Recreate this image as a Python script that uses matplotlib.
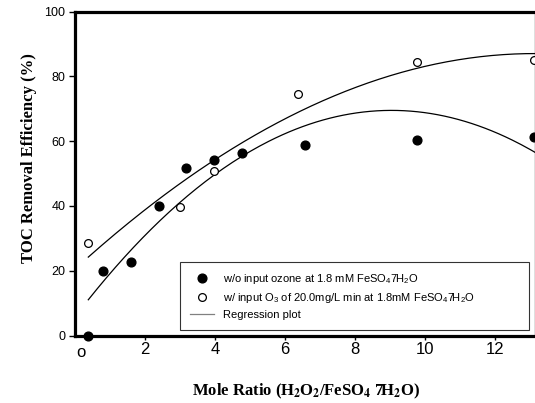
import numpy as np
import matplotlib
matplotlib.use("Agg")
import matplotlib.pyplot as plt
from matplotlib.lines import Line2D

plt.rcParams['font.family'] = ['Liberation Sans', 'DejaVu Sans']
plt.rcParams['mathtext.default'] = 'regular'

# w/o ozone (filled circles)
x_no_ozone = [0.38, 0.81, 1.59, 2.40, 3.17, 3.98, 4.78, 6.57, 9.76, 13.12]
y_no_ozone = [0.0, 20.0, 22.6, 39.9, 51.6, 54.3, 56.5, 58.7, 60.5, 61.3]

# w/ ozone (open circles)
x_ozone = [0.38, 3.00, 3.98, 6.38, 9.76, 13.12]
y_ozone = [28.5, 39.7, 50.8, 74.5, 84.5, 85.2]

# regression curves, points
x_reg_upper = [0.38, 2.38, 4.43, 6.33, 7.86, 9.76, 13.0]
y_reg_upper = [24.3, 41.8, 57.2, 69.1, 75.8, 82.4, 87.1]
x_reg_lower = [0.38, 2.90, 3.98, 4.78, 6.62, 7.86, 8.71, 9.57, 13.1]
y_reg_lower = [11.0, 39.8, 50.9, 54.7, 64.4, 68.6, 69.6, 69.4, 56.8]

fig = plt.figure(figsize=(5.35, 4.03), dpi=100)
ax = fig.add_axes([75 / 535, 1 - 335.5 / 403, 460 / 535, 323.8 / 403])

# smooth regression lines
for xr, yr in [(x_reg_upper, y_reg_upper), (x_reg_lower, y_reg_lower)]:
    c = np.polyfit(xr, yr, 3)
    xx = np.linspace(min(xr), 13.2, 200)
    ax.plot(xx, np.polyval(c, xx), color='black', lw=0.9)

ax.plot(x_no_ozone, y_no_ozone, 'o', color='black', ms=6.3, clip_on=False, zorder=5)
ax.plot(x_ozone, y_ozone, 'o', mfc='white', mec='black', mew=0.9, ms=5.6,
        clip_on=False, zorder=5)

ax.set_xlim(0, 460 / 35)
ax.set_ylim(0, 100)

for s in ['left', 'bottom', 'top']:
    ax.spines[s].set_linewidth(2.3)
ax.spines['right'].set_linewidth(0.9)

ax.set_yticks([0, 20, 40, 60, 80, 100])
ax.tick_params(axis='y', direction='out', length=4, width=1, labelsize=9, pad=3)
ax.set_xticks([2, 4, 6, 8, 10, 12])
ax.tick_params(axis='x', direction='out', length=3, width=1, labelsize=12, pad=1.5)
ax.text(0.17, -5.3, 'o', fontsize=12, ha='center', va='center')

ax.set_xlabel(r'Mole Ratio (H$_\mathbf{2}$O$_\mathbf{2}$/FeSO$_\mathbf{4}$ 7H$_\mathbf{2}$O)',
              family='Liberation Serif', fontweight='bold', fontsize=12,
              math_fontfamily='stix')
ax.xaxis.set_label_coords(0.503, -0.142)
ax.set_ylabel('TOC Removal Efficiency (%)', family='Liberation Serif',
              fontweight='bold', fontsize=12)
ax.yaxis.set_label_coords(-0.082, 0.548)

handles = [
    Line2D([], [], marker='o', ls='none', color='black', ms=6.3),
    Line2D([], [], marker='o', ls='none', mfc='white', mec='black', mew=0.9, ms=5.6),
    Line2D([], [], color='gray', lw=0.9),
]
labels = [
    'w/o input ozone at 1.8 mM FeSO$_4$7H$_2$O',
    'w/ input O$_3$ of 20.0mg/L min at 1.8mM FeSO$_4$7H$_2$O',
    'Regression plot',
]
leg = ax.legend(handles, labels, loc='lower left', bbox_to_anchor=(0.228, 0.017, 0.759, 0.225),
                mode='expand', fontsize=8, frameon=True, fancybox=False, borderpad=0.9,
                labelspacing=0.45, handlelength=2.2, handletextpad=0.8, borderaxespad=0)
leg.get_frame().set_edgecolor('black')
leg.get_frame().set_linewidth(0.8)

fig.savefig('out.png', dpi=100)
